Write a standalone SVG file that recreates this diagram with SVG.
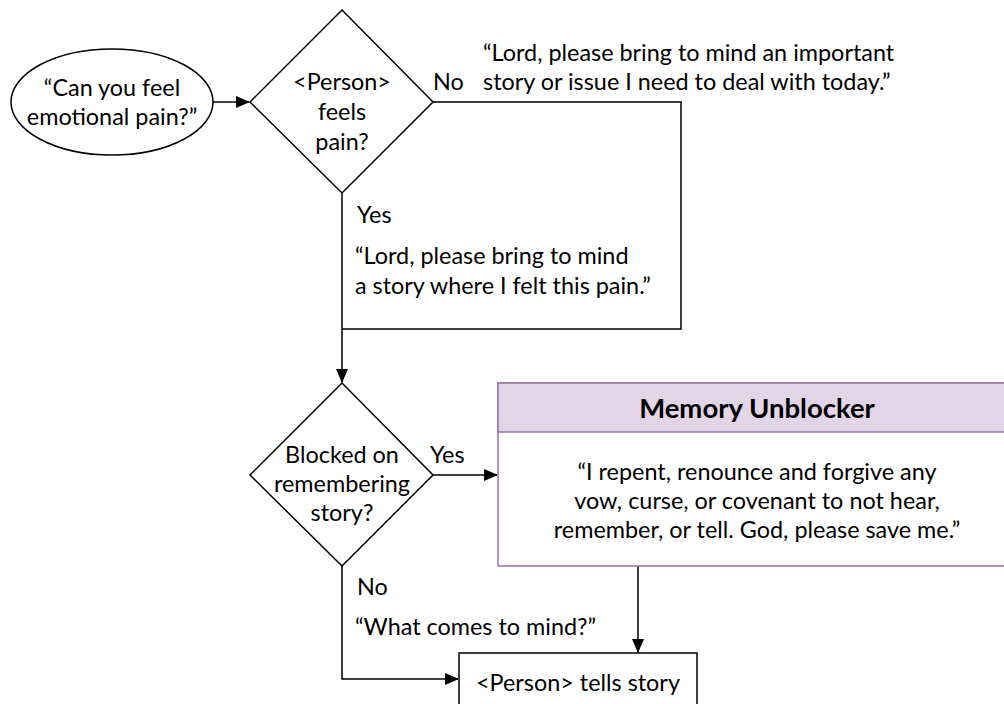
<svg xmlns="http://www.w3.org/2000/svg" width="1004" height="704" viewBox="0 0 1004 704">
<style>
text{font-family:Lato,"Liberation Sans",sans-serif;font-size:23.4px;fill:#000}
.c{text-anchor:middle}
.shape{fill:#fff;stroke:#000;stroke-width:1.5}
.line{fill:none;stroke:#000;stroke-width:1.5}
.hdr{font-weight:bold;font-size:27.5px}
</style>
<defs>
<marker id="arr" markerWidth="14" markerHeight="12" refX="13" refY="6" orient="auto" markerUnits="userSpaceOnUse">
<path d="M0,0 L14,6 L0,12 Z" fill="#000"/>
</marker>
</defs>
<rect width="1004" height="704" fill="#fff"/>
<g id="connectors">
<path class="line" d="M213,102 L249,102" marker-end="url(#arr)"/>
<path class="line" d="M433,102 L681,102 L681,329 L342,329"/>
<path class="line" d="M342,193 L342,382" marker-end="url(#arr)"/>
<path class="line" d="M433,475 L497,475" marker-end="url(#arr)"/>
<path class="line" d="M638,566 L638,652" marker-end="url(#arr)"/>
<path class="line" d="M342,566 L342,679 L458,679" marker-end="url(#arr)"/>
<text x="433" y="90">No</text>
<text x="483" y="61">“Lord, please bring to mind an important</text>
<text x="483" y="90">story or issue I need to deal with today.”</text>
<text x="357" y="223">Yes</text>
<text x="355" y="264">“Lord, please bring to mind</text>
<text x="355" y="294">a story where I felt this pain.”</text>
<text x="430" y="463">Yes</text>
<text x="357" y="595">No</text>
<text x="355" y="635">“What comes to mind?”</text>
</g>
<g id="start">
<ellipse class="shape" cx="112" cy="102" rx="101" ry="53"/>
<text class="c" x="112" y="96">“Can you feel</text>
<text class="c" x="112" y="125">emotional pain?”</text>
</g>
<g id="feels-pain">
<path class="shape" d="M342,10 L433,102 L342,193 L250,102 Z"/>
<text class="c" x="342" y="90">&lt;Person&gt;</text>
<text class="c" x="342" y="120">feels</text>
<text class="c" x="342" y="150">pain?</text>
</g>
<g id="blocked">
<path class="shape" d="M342,383 L433,475 L342,566 L250,475 Z"/>
<text class="c" x="342" y="463">Blocked on</text>
<text class="c" x="342" y="492">remembering</text>
<text class="c" x="342" y="521">story?</text>
</g>
<g id="memory-unblocker">
<rect x="498" y="383" width="518" height="183" fill="#fff" stroke="#9673a6" stroke-width="1.5"/>
<rect x="498" y="383" width="518" height="49" fill="#e1d5e7" stroke="#9673a6" stroke-width="1.5"/>
<text class="c hdr" x="757" y="418">Memory Unblocker</text>
<text class="c" x="757" y="480">“I repent, renounce and forgive any</text>
<text class="c" x="757" y="509">vow, curse, or covenant to not hear,</text>
<text class="c" x="757" y="538">remember, or tell. God, please save me.”</text>
</g>
<g id="tells-story">
<rect class="shape" x="459" y="653" width="238" height="60"/>
<text class="c" x="578" y="691">&lt;Person&gt; tells story</text>
</g>
</svg>
